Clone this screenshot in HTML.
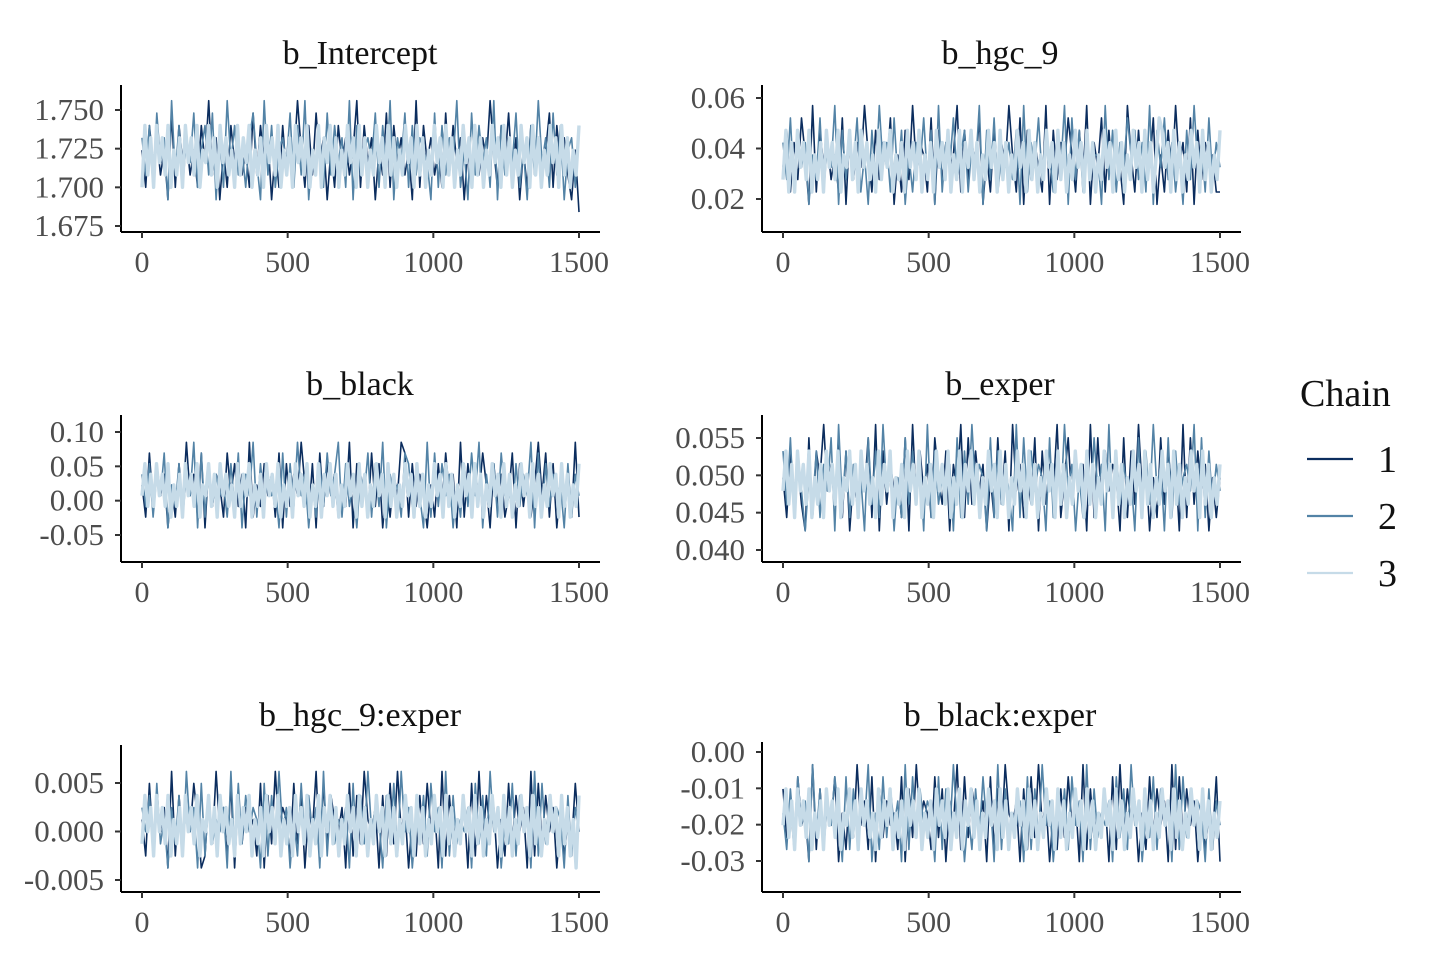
<!DOCTYPE html>
<html><head><meta charset="utf-8">
<style>
body{margin:0;background:#fff;}
svg text{font-family:"Liberation Serif",serif;}
</style></head>
<body>
<svg id="chart" width="1440" height="960" viewBox="0 0 1440 960"></svg>
<script>
// ---- data ----
// Each chain trace is a sequence of level codes (0-9), evenly spaced over iterations 0..1500.
// Level code d maps to value lo + d*(hi-lo)/9 using the panel range arrays below.
const titles = ["b_Intercept","b_hgc_9","b_black","b_exper","b_hgc_9:exper","b_black:exper"];
const rangeLo = [1.684,0.013,-0.055,0.0408,-0.0050,-0.0335];
const rangeHi = [1.756,0.057,0.085,0.0568,0.0062,-0.0035];
const xTicks = [0,500,1000,1500];
const yTicks0 = [1.750,1.725,1.700,1.675];
const yTicks1 = [0.06,0.04,0.02];
const yTicks2 = [0.10,0.05,0.00,-0.05];
const yTicks3 = [0.055,0.050,0.045,0.040];
const yTicks4 = [0.005,0.000,-0.005];
const yTicks5 = [0.00,-0.01,-0.02,-0.03];
const yLabels0 = ["1.750","1.725","1.700","1.675"];
const yLabels1 = ["0.06","0.04","0.02"];
const yLabels2 = ["0.10","0.05","0.00","-0.05"];
const yLabels3 = ["0.055","0.050","0.045","0.040"];
const yLabels4 = ["0.005","0.000","-0.005"];
const yLabels5 = ["0.00","-0.01","-0.02","-0.03"];

const p0c1 = "52746351827463527493615274635283746152736495273846152746359274615382746351927463528374615273649527483615274635827463150".split('').map(Number);
const p0c2 = "63728461937264825738162947352684193725648273915462837462917356482739164827365418273649251837462917364825173946283715627".split('').map(Number);
const p0c3 = "27362746372536274637254736274635273647253627463725362746372537264736253746273625374627362537462736253746273625374627362537462736253746273625374627362537".split('').map(Number);
const p1c1 = "47263851927463528173649527364815273946528173645927364815273649528173642917364852739164827364195273648152739462817364522".split('').map(Number);
const p1c2 = "63827461538264917364825173946283715264837192648357264917382546371926483752649183726455193726485736291748362517394628364".split('').map(Number);
const p1c3 = "37262746372536274637254736274635273647253627463725362746372537264736253746273625374627362537462736253746273625374627362537462736258746273625374627362537".split('').map(Number);
const p2c1 = "52837461527394628173652847361925374628173649527183746253917462837152649827364152738461927364851736248173625948271536292".split('').map(Number);
const p2c2 = "63726481537264918273645273816492736451827394615273846927351648273916452873641928374615273849163728452736491827364517264".split('').map(Number);
const p2c3 = "47363746372536274637254736274635273647253627463725362746372537264736253746273625374627362537462736253746273625374627362537462736253746273625374627362537".split('').map(Number);
const p3c1 = "52746318275946382715364829173645281937462853716492837461528371946253817364925837461928374651827394615283746192837461525".split('').map(Number);
const p3c2 = "73826415372648193726451837294615283746192735461827394651827364192837465182739461527384619273645182739461827356491827364".split('').map(Number);
const p3c3 = "47362746372536274637254736274635273647253627463725362746372537264736253746273625374627362537462736253746273625374627362537462736253746273625374627362536".split('').map(Number);
const p4c1 = "52837461927364851273946281736452817394652837164928375461827395461728394615273846192735461829374615283746192837461525384".split('').map(Number);
const p4c2 = "64728351637294618273546192837465182739461528374619273546182739465173829461537284619273546183729461538274619283746517264".split('').map(Number);
const p4c3 = "37462746372536274637254736274635273647253627463725362746372537264736253746273625374627362537462736253746273625374627362537462736253746273625374627362517".split('').map(Number);
const p5c1 = "73628451927364815273946281736452817394652837164928375461827395461728394615273846192735461829374615283746192837461525381".split('').map(Number);
const p5c2 = "52738461937264851827364915283746192837465182739461527384619273546182739461537284619273546183729461538274619283746517264".split('').map(Number);
const p5c3 = "47362746372536274637254736274635273647253627463725362746372537264736253746273625374627362537462736253746273625374627362537462736253746273625374627362536".split('').map(Number);

const chainLabels = ["1","2","3"];
const chainColors = ["#0b2d5e","#5383a6","#c6dbe8"];
const chainWidths = [1.6,1.6,3.4];

const panelData = [[p0c1,p0c2,p0c3],[p1c1,p1c2,p1c3],[p2c1,p2c2,p2c3],[p3c1,p3c2,p3c3],[p4c1,p4c2,p4c3],[p5c1,p5c2,p5c3]];
const panelTicks = [yTicks0,yTicks1,yTicks2,yTicks3,yTicks4,yTicks5];
const panelLabels = [yLabels0,yLabels1,yLabels2,yLabels3,yLabels4,yLabels5];

// ---- layout (pixel geometry) ----
const layout = [
 {axX:121,x0:142,x1:579,axEnd:600,top:85, base:232,vA:1.75, pA:110,vB:1.675,pB:226,tx:360,ty:64},
 {axX:762,x0:783,x1:1220,axEnd:1241,top:85,base:232,vA:0.06, pA:98, vB:0.02, pB:199,tx:1000,ty:64},
 {axX:121,x0:142,x1:579,axEnd:600,top:415,base:562,vA:0.10, pA:432,vB:-0.05,pB:535,tx:360,ty:395},
 {axX:762,x0:783,x1:1220,axEnd:1241,top:415,base:562,vA:0.055,pA:438,vB:0.040,pB:550,tx:1000,ty:395},
 {axX:121,x0:142,x1:579,axEnd:600,top:745,base:892,vA:0.005,pA:783,vB:-0.005,pB:880,tx:360,ty:726},
 {axX:762,x0:783,x1:1220,axEnd:1241,top:742,base:892,vA:0.00, pA:752,vB:-0.03,pB:861,tx:1000,ty:726}
];
const NS="http://www.w3.org/2000/svg";
const svg=document.getElementById('chart');
function mk(tag,attrs,parent){const e=document.createElementNS(NS,tag);for(const k in attrs)e.setAttribute(k,attrs[k]);(parent||svg).appendChild(e);return e;}

layout.forEach((L,pi)=>{
  const g=mk('g',{});
  
  
  const xs=v=>L.x0+(v/1500)*(L.x1-L.x0);
  const ys=v=>L.pA+(v-L.vA)*(L.pB-L.pA)/(L.vB-L.vA);
  const val=d=>rangeLo[pi]+d*(rangeHi[pi]-rangeLo[pi])/9;
  const t=mk('text',{x:L.tx,y:L.ty,'text-anchor':'middle','font-size':34,fill:'#111'},g);
  t.textContent=titles[pi];
  
  
  panelData[pi].forEach((arr,ci)=>{
    const n=arr.length;
    const pts=arr.map((d,i)=>xs(i*1500/(n-1)).toFixed(1)+','+ys(val(d)).toFixed(1)).join(' ');
    const pl=mk('polyline',{points:pts,fill:'none',stroke:chainColors[ci],'stroke-width':chainWidths[ci],'stroke-linejoin':'round'},g);
    
    
  });
  const ya=mk('line',{x1:L.axX,y1:L.top,x2:L.axX,y2:L.base,stroke:'#000','stroke-width':2},g);
  
  
  const xa=mk('line',{x1:L.axX,y1:L.base,x2:L.axEnd,y2:L.base,stroke:'#000','stroke-width':2},g);
  
  
  panelTicks[pi].forEach((v,i)=>{
    const y=ys(v);
    mk('line',{x1:L.axX-6,y1:y,x2:L.axX,y2:y,stroke:'#333','stroke-width':2},g);
    const tl=mk('text',{x:L.axX-17,y:y+10,'text-anchor':'end','font-size':31,fill:'#4d4d4d'},g);
    tl.textContent=panelLabels[pi][i];
    
    
  });
  xTicks.forEach(v=>{
    const x=xs(v);
    mk('line',{x1:x,y1:L.base,x2:x,y2:L.base+6,stroke:'#333','stroke-width':2},g);
    const tl=mk('text',{x:x,y:L.base+40,'text-anchor':'middle','font-size':30,fill:'#4d4d4d'},g);
    tl.textContent=String(v);
    
    
  });
});

const lg=mk('g',{});


const lt=mk('text',{x:1300,y:406,'font-size':38,fill:'#111'},lg);
lt.textContent='Chain';


chainLabels.forEach((c,i)=>{
  const y=459+i*57;
  const e=mk('g',{},lg);
  
  
  mk('line',{x1:1307,y1:y,x2:1353,y2:y,stroke:chainColors[i],'stroke-width':2.2},e);
  const tx=mk('text',{x:1378,y:y+13,'font-size':38,fill:'#111'},e);
  tx.textContent=c;
});
</script>
</body></html>
